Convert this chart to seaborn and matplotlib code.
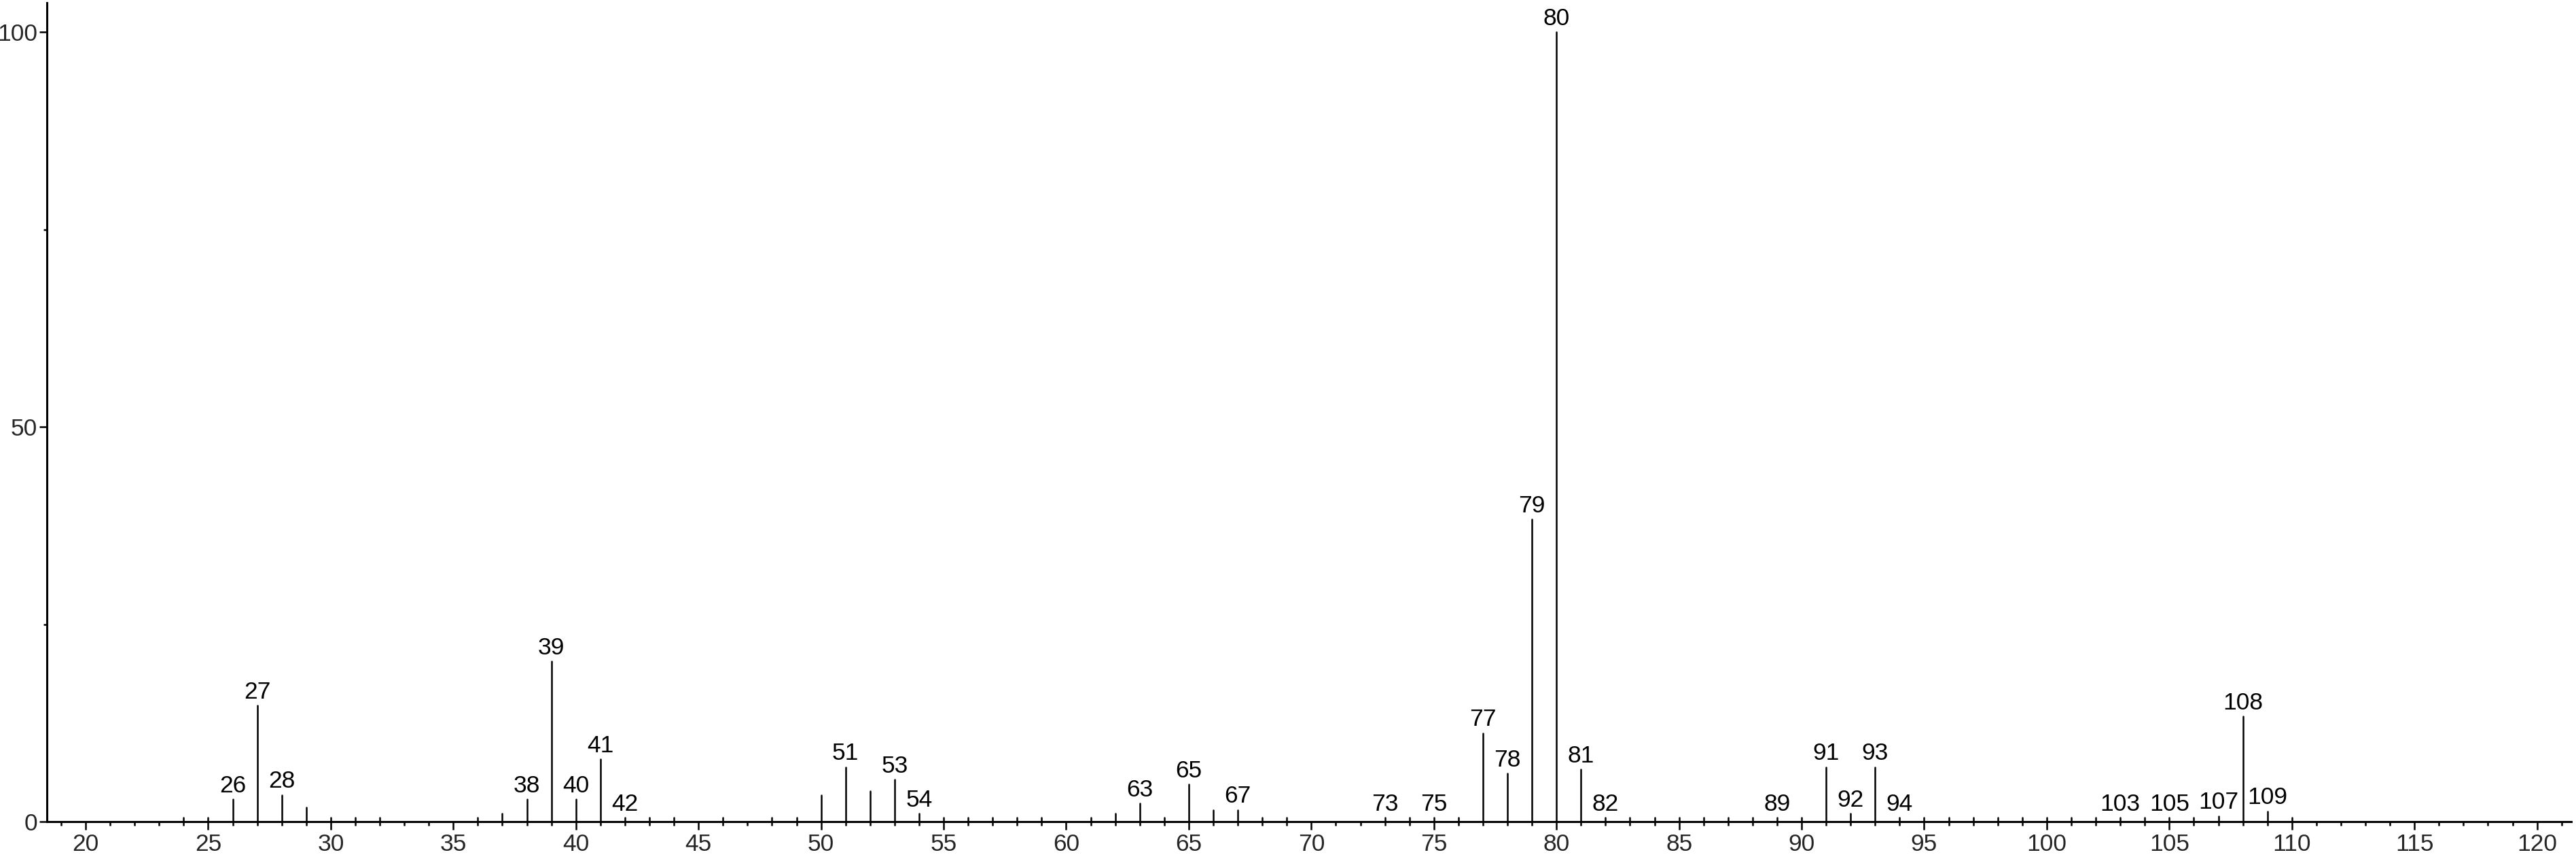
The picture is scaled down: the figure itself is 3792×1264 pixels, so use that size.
import numpy as np
import pandas as pd
import matplotlib
matplotlib.use("Agg")
import matplotlib.pyplot as plt
import seaborn as sns
from matplotlib.ticker import MultipleLocator

# ---------- data ----------
mz = [24, 25, 26, 27, 28, 29, 30, 31, 32, 36, 37, 38, 39, 40, 41, 42, 43, 44,
      46, 48, 49, 50, 51, 52, 53, 54, 55, 56, 57, 58, 59, 61, 62, 63, 64, 65,
      66, 67, 68, 69, 73, 74, 75, 76, 77, 78, 79, 80, 81, 82, 83, 84, 85, 86,
      87, 88, 89, 90, 91, 92, 93, 94, 95, 96, 97, 98, 99, 100, 101, 102, 103,
      104, 105, 106, 107, 108, 109, 110]
intensity = [0.5, 0.5, 2.8, 14.7, 3.4, 1.8, 0.5, 0.5, 0.5, 0.5, 1.0, 2.8, 20.3,
             2.8, 7.9, 0.5, 0.5, 0.5, 0.5, 0.5, 0.5, 3.4, 6.9, 3.9, 5.3, 1.0,
             0.5, 0.5, 0.5, 0.5, 0.5, 0.5, 1.0, 2.3, 0.5, 4.7, 1.5, 1.5, 0.5,
             0.5, 0.5, 0.5, 0.5, 0.5, 11.2, 6.1, 38.3, 100.0, 6.6, 0.5, 0.5,
             0.5, 0.5, 0.5, 0.5, 0.5, 0.5, 0.5, 6.9, 1.0, 6.9, 0.5, 0.5, 0.5,
             0.5, 0.5, 0.5, 0.5, 0.5, 0.5, 0.5, 0.5, 0.5, 0.5, 0.7, 13.3, 1.3,
             0.5]
labeled = [26, 27, 28, 38, 39, 40, 41, 42, 51, 53, 54, 63, 65, 67, 73, 75, 77,
           78, 79, 80, 81, 82, 89, 91, 92, 93, 94, 103, 105, 107, 108, 109]

x_major = list(range(20, 121, 5))
y_major = [0, 50, 100]
y_minor = [25, 75]

# ---------- long-form table: each stick = two points ----------
rows = []
for m, v in zip(mz, intensity):
    rows.append({"mz": m, "rel": 0.0, "peak": m})
    rows.append({"mz": m, "rel": v, "peak": m})
sticks = pd.DataFrame(rows)

sns.set_theme(style="ticks")
plt.rcParams["font.family"] = ["Liberation Sans", "DejaVu Sans"]
FS = 25.5

fig = plt.figure(figsize=(37.92, 12.64), dpi=100)
ax = fig.add_axes([0.0182, 0.0435, 0.98, 0.9533])

sns.lineplot(data=sticks, x="mz", y="rel", units="peak", estimator=None,
             sort=False, color="black", linewidth=1.8, ax=ax, legend=False)

# peak labels
height = dict(zip(mz, intensity))
for m in labeled:
    ax.annotate(str(m), (m, height[m]), xytext=(0, 2.5), textcoords="offset points",
                ha="center", va="bottom", fontsize=FS, color="black")

ax.set_xlim(18.42, 121.4)
ax.set_ylim(0, 103.7)
ax.set_xticks(x_major)
ax.xaxis.set_minor_locator(MultipleLocator(1))
ax.set_yticks(y_major)
ax.set_yticks(y_minor, minor=True)
ax.set_xlabel("")
ax.set_ylabel("")

ax.tick_params(axis="x", which="major", length=8.6, width=1.8, pad=3.5,
               labelsize=FS, direction="out", color="black")
ax.tick_params(axis="x", which="minor", length=4, width=1.8, direction="out",
               color="black")
ax.tick_params(axis="y", which="major", length=8, width=1.8, pad=2,
               labelsize=FS, direction="out", color="black")
ax.tick_params(axis="y", which="minor", length=3.6, width=1.8, direction="out",
               color="black")

sns.despine(ax=ax)
for s in ["left", "bottom"]:
    ax.spines[s].set_linewidth(2.2)
    ax.spines[s].set_color("black")
ax.set_facecolor("white")
fig.patch.set_facecolor("white")

fig.savefig("out.png", dpi=100)
